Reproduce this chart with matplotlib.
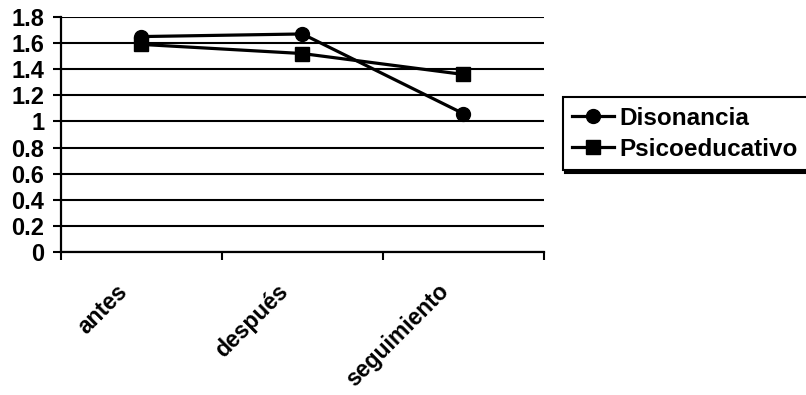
import numpy as np
import matplotlib.pyplot as plt
import matplotlib.transforms as mtransforms

# datos
momentos = ["antes", "después", "seguimiento"]
disonancia = [1.65, 1.67, 1.06]
psicoeducativo = [1.59, 1.52, 1.36]
y_ticks = [0, 0.2, 0.4, 0.6, 0.8, 1, 1.2, 1.4, 1.6, 1.8]
y_labels = ["0", "0.2", "0.4", "0.6", "0.8", "1", "1.2", "1.4", "1.6", "1.8"]

plt.rcParams["font.family"] = ["Liberation Sans", "DejaVu Sans"]
plt.rcParams["font.weight"] = "bold"

fig = plt.figure(figsize=(8.06, 3.95), dpi=100)
ax = fig.add_axes([0.0757, 0.362, 0.599, 0.595])

x = np.arange(len(momentos))
ax.plot(x, disonancia, color="black", lw=2.3, marker="o", ms=10, label="Disonancia")
ax.plot(x, psicoeducativo, color="black", lw=2.3, marker="s", ms=10, label="Psicoeducativo")

ax.set_xlim(-0.5, len(momentos) - 0.5)
ax.set_ylim(0, 1.8)

# lineas de cuadricula
for v in y_ticks:
    ax.axhline(v, color="black", lw=1.5, zorder=0)

ax.set_yticks(y_ticks)
ax.set_yticklabels(y_labels, fontsize=17, fontweight="bold")
ax.tick_params(axis="y", length=6, width=1.5, pad=6)

ax.set_xticks(x)
ax.set_xticklabels(momentos, fontsize=16.5, fontweight="bold", rotation=45,
                   ha="right", rotation_mode="anchor")
ax.tick_params(axis="x", which="major", length=0, pad=20)
shift = mtransforms.ScaledTranslation(-26 / 100, 0, fig.dpi_scale_trans)
for lbl in ax.get_xticklabels():
    lbl.set_transform(lbl.get_transform() + shift)
ax.set_xticks(np.arange(len(momentos) + 1) - 0.5, minor=True)
ax.tick_params(axis="x", which="minor", length=6, width=1.5)

for s in ["top", "right"]:
    ax.spines[s].set_visible(False)
for s in ["left", "bottom"]:
    ax.spines[s].set_linewidth(1.6)

leg = fig.legend(loc="upper left", bbox_to_anchor=(0.698, 0.754), frameon=True,
                 fancybox=False, shadow={"color": "black", "alpha": 1},
                 handlelength=1.7, handletextpad=0.25, borderpad=0.4,
                 labelspacing=0.32, borderaxespad=0,
                 prop={"weight": "bold", "size": 17.5})
leg.get_frame().set_edgecolor("black")
leg.get_frame().set_linewidth(1.5)

fig.savefig("out.png", dpi=100)
